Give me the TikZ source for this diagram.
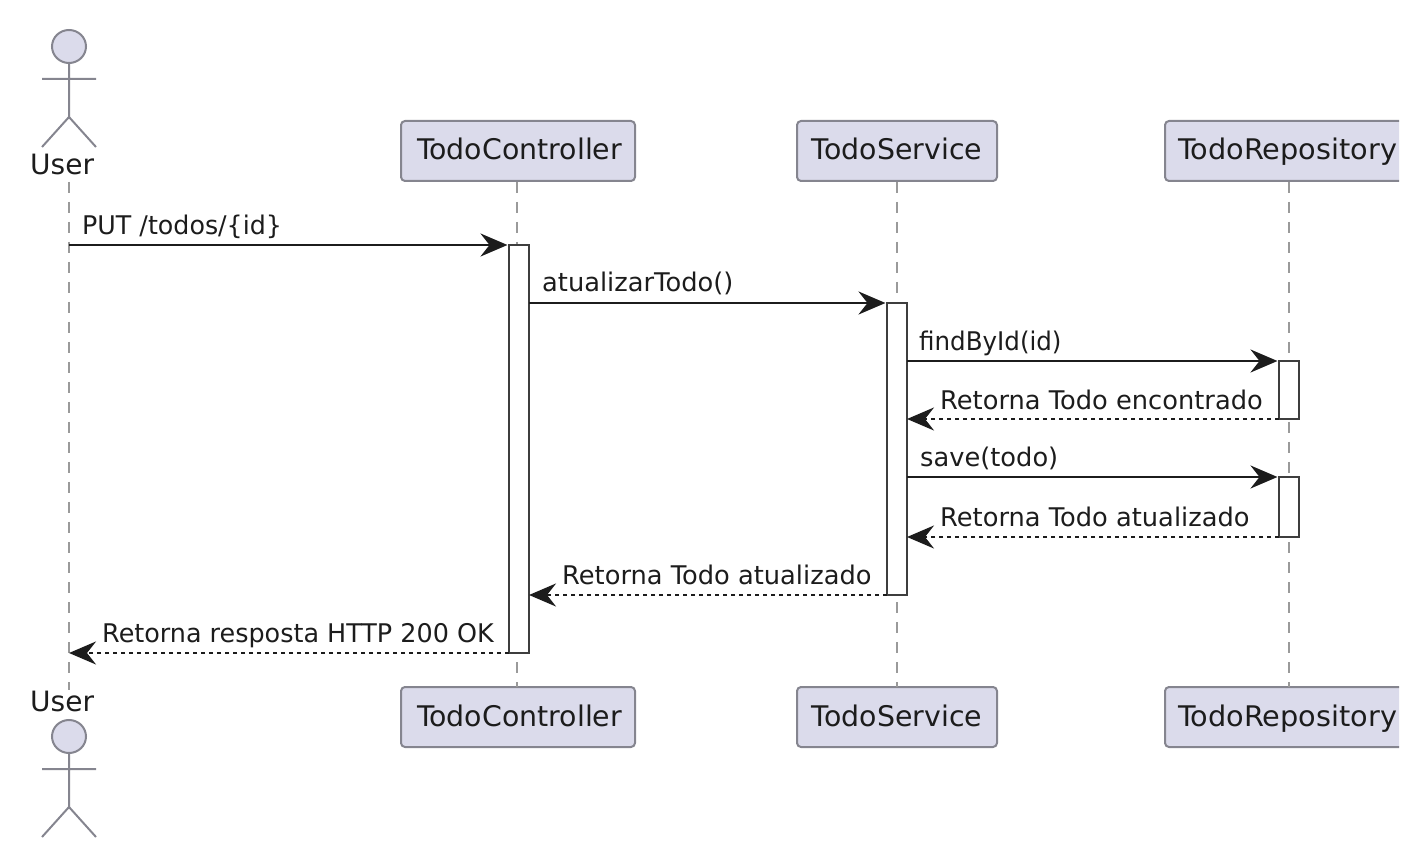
\documentclass[tikz,border=0pt]{standalone}
\usepackage{fontspec}
\setmainfont{DejaVu Sans}
\usetikzlibrary{arrows.meta,calc}
\definecolor{boxfill}{HTML}{DBDBEB}
\definecolor{boxline}{HTML}{85858F}
\definecolor{ink}{HTML}{1C1C1C}
\definecolor{life}{HTML}{9A9A9A}
\tikzset{
  partbox/.style={draw=boxline,fill=boxfill,line width=2pt,rounded corners=4pt,minimum height=60pt,inner sep=0pt,outer sep=0pt,text=ink,font=\fontsize{28.4}{30}\selectfont,text height=24pt,text depth=6pt},
  actorname/.style={anchor=base west,inner sep=0pt,text=ink,font=\fontsize{28}{30}\selectfont},
  actorline/.style={draw=boxline,line width=2pt},
  lifeline/.style={draw=life,line width=2pt,dash pattern=on 11pt off 9pt},
  actbox/.style={draw=ink!85,fill=white,line width=2.8pt,minimum width=20pt,inner sep=0pt,outer sep=0pt},
  msglabel/.style={anchor=base west,inner sep=0pt,text=ink,font=\fontsize{25.7}{28}\selectfont},
  headtip/.style={-{Stealth[length=27pt,width=23pt,inset=9pt,fill=ink]}},
  sync/.style={draw=ink,line width=2.6pt,shorten >=1.5pt,headtip},
  reply/.style={draw=ink,line width=2.2pt,dash pattern=on 4pt off 4pt,headtip}
}
\begin{document}
\begin{tikzpicture}[x=1pt,y=-1pt]
\useasboundingbox (0,0) rectangle (1428,866);
% actor coordinates
\coordinate (utop) at (69,182);
\coordinate (ubot) at (69,690);
% participant boxes
\begin{scope}
\clip (0,0) rectangle (1399,866);
\node[partbox,minimum width=234pt] (ct) at (518,151) {\hspace*{3pt}TodoController};
\node[partbox,minimum width=200pt] (st) at (897,151) {TodoService};
\node[partbox,minimum width=245pt] (rt) at (1287.5,151) {\scalebox{1.012}[1]{TodoRepository}};
\node[partbox,minimum width=234pt] (cb) at (518,717) {\hspace*{3pt}TodoController};
\node[partbox,minimum width=200pt] (sb) at (897,717) {TodoService};
\node[partbox,minimum width=245pt] (rb) at (1287.5,717) {\scalebox{1.012}[1]{TodoRepository}};
\end{scope}
% lifelines
\coordinate (cl1) at (517,182); \coordinate (cl2) at (517,687);
\coordinate (sl1) at (897,182); \coordinate (sl2) at (897,687);
\coordinate (rl1) at (1289,182); \coordinate (rl2) at (1289,687);
\draw[lifeline] (utop) -- (ubot);
\draw[lifeline] (cl1) -- (cl2);
\draw[lifeline] (sl1) -- (sl2);
\draw[lifeline] (rl1) -- (rl2);
% actors
\node[actorname] (ut) at (30,175) {User};
\node[actorname] (ub) at (30,711) {User};
\draw[actorline,fill=boxfill] (69,46.5) ellipse [x radius=17pt,y radius=16.5pt];
\draw[actorline] (69,63) -- (69,117) (42,79) -- (96,79) (42,147) -- (69,117) -- (96,147);
\draw[actorline,fill=boxfill] (69,736.5) ellipse [x radius=17pt,y radius=16.5pt];
\draw[actorline] (69,753) -- (69,807) (42,769) -- (96,769) (42,837) -- (69,807) -- (96,837);
% activations
\node[actbox,minimum height=408pt] (ac) at (519,449) {};
\node[actbox,minimum height=292pt] (as) at (897,449) {};
\node[actbox,minimum height=58pt] (ar1) at (1289,390) {};
\node[actbox,minimum height=60pt] (ar2) at (1289,507) {};
% message ends
\coordinate (m1a) at (69,245);
\draw[sync] (m1a) -- (ac.north west);
\draw[sync] ($(ac.north east)+(0,58)$) -- (as.north west);
\draw[sync] ($(as.north east)+(0,58)$) -- (ar1.north west);
\draw[reply] (ar1.south west) -- ($(as.north east)+(0,116)$);
\draw[sync] ($(as.north east)+(0,174)$) -- (ar2.north west);
\draw[reply] (ar2.south west) -- ($(as.north east)+(0,234)$);
\draw[reply] (as.south west) -- ($(ac.north east)+(0,350)$);
\coordinate (m8b) at (69,653);
\draw[reply] (ac.south west) -- (m8b);
% labels
\node[msglabel] (l1) at (82,235) {\scalebox{0.985}[1]{PUT /todos/\{id\}}};
\node[msglabel] (l2) at (542,292) {atualizarTodo()};
\node[msglabel] (l3) at (919,351) {\scalebox{0.955}[1]{findById(id)}};
\node[msglabel] (l4) at (940,410) {Retorna Todo encontrado};
\node[msglabel] (l5) at (920,467) {save(todo)};
\node[msglabel] (l6) at (940,526) {Retorna Todo atualizado};
\node[msglabel] (l7) at (562,584) {Retorna Todo atualizado};
\node[msglabel] (l8) at (102,642) {\scalebox{0.99}[1]{Retorna resposta HTTP 200 OK}};
\end{tikzpicture}
\end{document}
